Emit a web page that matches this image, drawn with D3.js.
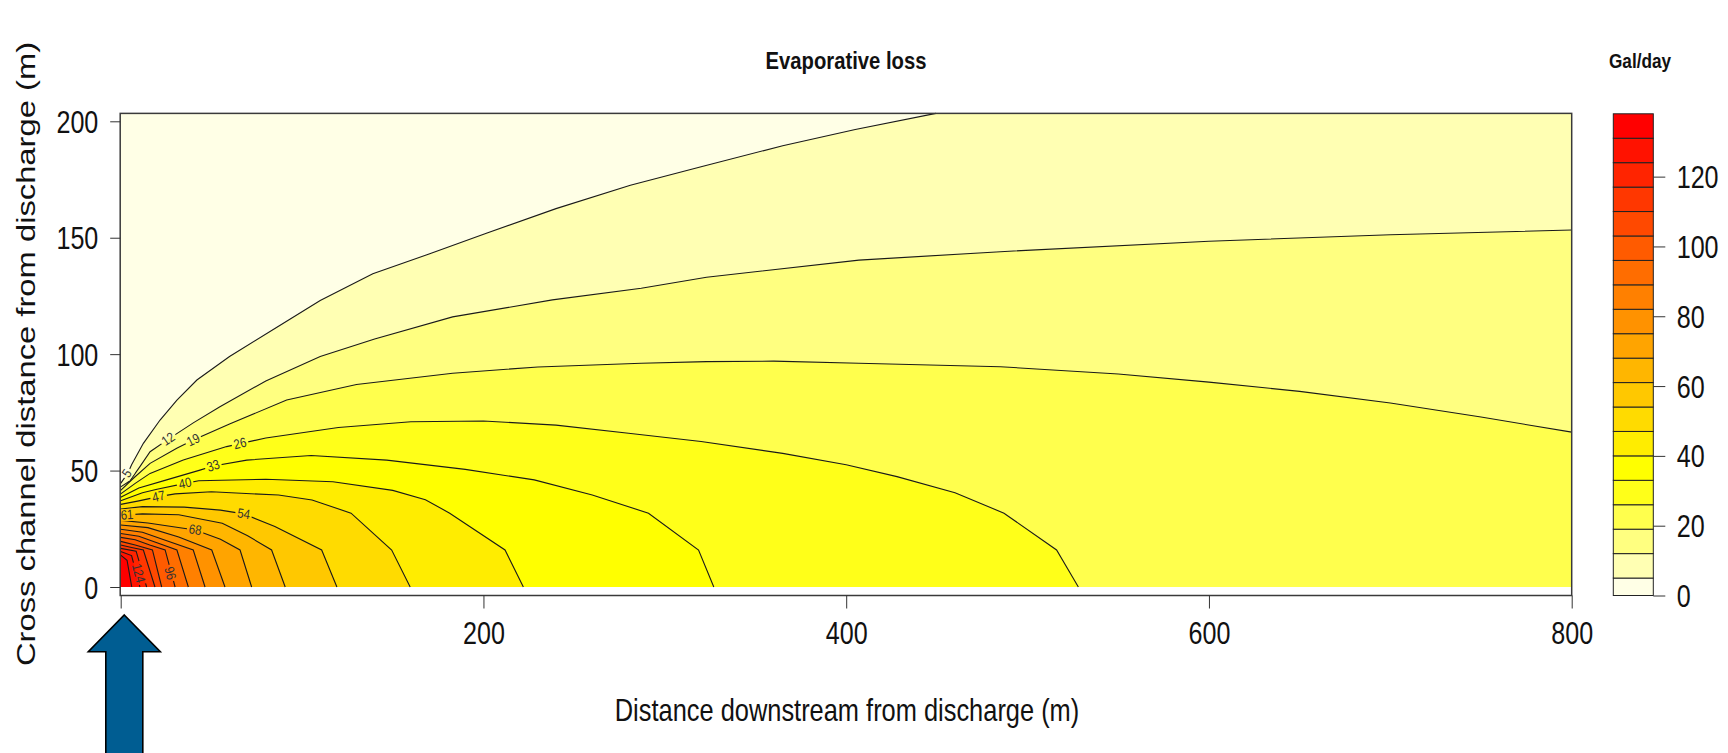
<!DOCTYPE html>
<html>
<head>
<meta charset="utf-8">
<script src="https://cdn.jsdelivr.net/npm/d3@7/dist/d3.min.js"></script>
<style>
  html, body { margin: 0; padding: 0; background: #fff; }
  svg { display: block; font-family: "Liberation Sans", Arial, sans-serif; }
</style>
</head>
<body>
<div id="chart"></div>
<script>
// contour breaks (Gal/day), 20 bands
const levels = [0, 5, 12, 19, 26, 33, 40, 47, 54, 61, 68, 75, 82, 89, 96, 103, 110, 117, 124, 131, 138];
const xTicks = [0, 200, 400, 600, 800];
const yTicks = [0, 50, 100, 150, 200];
const keyTicks = [0, 20, 40, 60, 80, 100, 120];

// contour lines: [distance downstream, cross channel distance]
const line5   = [[0,44.5],[4,49],[6,52.5],[12.5,61.7],[21.7,71.7],[31,80.3],[42,88.9],[60,99],[85,111],[110,123],[139,134.5],[170,143],[202,152],[240,162.5],[281,172.5],[320,180.5],[365,189.5],[405,196.5],[449.5,203.4]];
const line12  = [[0,43],[5,45.5],[10.6,51.7],[16.2,58.1],[26.3,63.5],[40,70.5],[54.7,77.4],[80,88.5],[110,99],[140,106.5],[183,116],[238,123.3],[287,128.3],[323,133],[407,140.4],[485,144],[600,148.5],[700,151.3],[800,153.3]];
const line19  = [[0,41.5],[7,46.7],[16.2,53.1],[30.9,59.6],[40,63.1],[60,70],[91.5,80.3],[130,87],[183,91.8],[230,94.5],[287,96.1],[323,96.8],[360,97],[407,96.1],[485,94.6],[550,91.5],[600,88],[650,84],[700,79],[750,73],[800,66.5]];
const line26  = [[0,40],[8,44.5],[16.2,48.8],[34.5,54.5],[58.4,60.3],[80,64],[120,68.5],[160,71],[200,71.3],[240,69.5],[280,66],[320,62.5],[365,57.4],[400,52.5],[428,47.4],[460,40.5],[487,31.7],[516,15.9],[528,0]];
const line33  = [[0,38.5],[10,42.5],[25.3,46],[43.7,50.2],[51,52],[69.5,54.5],[105,56.5],[146.7,54.5],[190,50.5],[228,46],[260,39.5],[291,31.7],[318.6,15.9],[327,0]];
const line40  = [[0,37],[12,40.5],[20,42],[35.5,44.5],[43,45.6],[80,46.3],[117,45.2],[150,41.5],[168,37.5],[181.4,31.7],[211.9,15.9],[222,0]];
const line47  = [[0,35.5],[10,37],[20.9,38.8],[30,40],[50,40.9],[87,39.5],[105.5,37.4],[127,31.7],[149.4,15.9],[159.6,0]];
const line54  = [[0,33.5],[12,34.5],[35,34.3],[55,33],[67.8,31.4],[85,26],[110.8,15.9],[119.2,0]];
const line61  = [[0,30.8],[12,31.4],[32,31],[56,27.4],[70,22],[83.2,15.9],[90.7,0]];
const line68  = [[0,28.6],[15,27.5],[41.1,24.5],[55,20.5],[65.8,15.9],[72.2,0]];
const line75  = [[0,26.6],[15,25.5],[32,21.5],[50.2,15.9],[57.5,0]];
const line82  = [[0,24.8],[12,23.5],[25,20],[40,15.9],[46.5,0]];
const line89  = [[0,23],[10,21.8],[20,19],[31,15.9],[37.3,0]];
const line96  = [[0,21.3],[8,20.3],[16,18],[24.5,15.9],[30,0]];
const line103 = [[0,19.6],[8,18],[17.5,15.9],[22.6,0]];
const line110 = [[0,18],[6,17],[12.5,15.9],[18.9,0]];
const line117 = [[0,16.6],[8.5,15.4],[14.3,0]];
const line124 = [[0,15.2],[6,13.5],[10.6,0]];
const line131 = [[0,13.7],[3.5,11.5],[6.1,0]];

// labelled contours: [level, x, y]
const contourLabels = [[5,3.5,48.8],[12,26.3,63.5],[19,40,63.1],[26,65.8,61.6],[33,51,52],[40,35.5,44.5],
                       [47,20.9,38.8],[54,67.8,31.4],[61,3.5,30.9],[68,41.1,24.5],[96,27.2,5.9],[124,9.7,5.9]];

const contourLines = [
  {level: 5, pts: line5}, {level: 12, pts: line12}, {level: 19, pts: line19}, {level: 26, pts: line26},
  {level: 33, pts: line33}, {level: 40, pts: line40}, {level: 47, pts: line47}, {level: 54, pts: line54},
  {level: 61, pts: line61}, {level: 68, pts: line68}, {level: 75, pts: line75}, {level: 82, pts: line82},
  {level: 89, pts: line89}, {level: 96, pts: line96}, {level: 103, pts: line103}, {level: 110, pts: line110},
  {level: 117, pts: line117}, {level: 124, pts: line124}, {level: 131, pts: line131}
];

const X_MAX = 800, Y_MAX = 203.4;   // extent of the filled grid

// R heat.colors(20), reversed (pale -> red)
function heatColors(n) {
  const j = Math.floor(n / 4), i = n - j, out = [];
  for (let k = 0; k < i; k++) out.push(d3.rgb(255, Math.round(255 * k / (i - 1)), 0).formatHex());
  for (let k = 0; k < j; k++) {
    const s = (1 - 1 / (2 * j)) - k * ((1 - 1 / j) / (j - 1));
    out.push(d3.rgb(255, 255, Math.round(255 * (1 - s))).formatHex());
  }
  return out.reverse();
}
const bandColors = heatColors(levels.length - 1);

const width = 1728, height = 753;
const svg = d3.select("#chart").append("svg").attr("width", width).attr("height", height);

const x = d3.scaleLinear().domain([0, 800]).range([120.7, 1571.7]);
const y = d3.scaleLinear().domain([0, 200]).range([587, 121.3]);
const keyY = d3.scaleLinear().domain([0, 138]).range([595.5, 113.8]);

const TXT = "#111";
// the lettering in the picture is squeezed horizontally
function label(sel, o) {
  return sel.append("text")
    .attr("transform", `translate(${o.x},${o.y}) rotate(${o.rot || 0}) scale(${o.sx || 1},${o.sy || 1})`)
    .attr("text-anchor", o.anchor || "middle")
    .attr("font-size", o.size)
    .attr("font-weight", o.weight || "normal")
    .attr("fill", o.fill || TXT)
    .text(o.text);
}

// ---- filled contours ----
const plot = svg.append("g").attr("id", "plot");
const toPath = d3.line().x(d => x(d[0])).y(d => y(d[1]));

plot.append("rect")
  .attr("x", x(0)).attr("y", y(Y_MAX))
  .attr("width", x(X_MAX) - x(0)).attr("height", y(0) - y(Y_MAX))
  .attr("fill", bandColors[0]);

// region z >= level lies below/left of each line; close it along the frame
function superLevel(pts) {
  const p = pts.slice(), end = p[p.length - 1];
  if (end[1] >= Y_MAX - 0.01) p.push([X_MAX, Y_MAX], [X_MAX, 0]);
  else if (end[0] >= X_MAX - 0.01) p.push([X_MAX, 0]);
  p.push([0, 0]);
  return p;
}

plot.selectAll(".band").data(contourLines).join("path")
  .attr("class", "band")
  .attr("d", d => toPath(superLevel(d.pts)) + "Z")
  .attr("fill", d => bandColors[levels.indexOf(d.level)]);

// ---- contour labels (line is broken under each label) ----
const LBL_SIZE = 13.5, LBL_SX = 0.85;
function labelAngle(lv, lx, ly) {
  const pts = contourLines.find(c => c.level === lv).pts.map(p => [x(p[0]), y(p[1])]);
  const px = x(lx), py = y(ly);
  let best = null, bd = Infinity;
  for (let i = 0; i < pts.length - 1; i++) {
    const [ax, ay] = pts[i], [bx, by] = pts[i + 1];
    const t = Math.max(0, Math.min(1, ((px - ax) * (bx - ax) + (py - ay) * (by - ay)) / ((bx - ax) ** 2 + (by - ay) ** 2)));
    const dd = (ax + t * (bx - ax) - px) ** 2 + (ay + t * (by - ay) - py) ** 2;
    if (dd < bd) { bd = dd; best = [bx - ax, by - ay]; }
  }
  let a = Math.atan2(best[1], best[0]) * 180 / Math.PI;
  if (a > 90) a -= 180;
  if (a < -90) a += 180;
  return a;
}
const lblData = contourLabels.map(d => ({level: d[0], px: x(d[1]), py: y(d[2]), rot: labelAngle(d[0], d[1], d[2])}));

const defs = svg.append("defs");
const mask = defs.append("mask").attr("id", "lblMask").attr("maskUnits", "userSpaceOnUse")
  .attr("x", 0).attr("y", 0).attr("width", width).attr("height", height);
mask.append("rect").attr("width", width).attr("height", height).attr("fill", "#fff");
mask.selectAll("rect.gap").data(lblData).join("rect")
  .attr("class", "gap")
  .attr("transform", d => `translate(${d.px},${d.py}) rotate(${d.rot})`)
  .attr("x", d => -(String(d.level).length * 0.556 * LBL_SIZE * LBL_SX) / 2 - 2)
  .attr("y", -LBL_SIZE * 0.45)
  .attr("width", d => String(d.level).length * 0.556 * LBL_SIZE * LBL_SX + 4)
  .attr("height", LBL_SIZE * 0.9)
  .attr("fill", "#000");

plot.append("g").attr("mask", "url(#lblMask)")
  .selectAll(".cline").data(contourLines).join("path")
  .attr("class", "cline")
  .attr("d", d => toPath(d.pts))
  .attr("fill", "none")
  .attr("stroke", "#1a1a1a")
  .attr("stroke-width", 1.1);

const lblG = plot.append("g");
lblData.forEach(d => {
  label(lblG, {x: d.px, y: d.py, rot: d.rot, sx: LBL_SX, size: LBL_SIZE, text: d.level, fill: "#333"})
    .attr("dominant-baseline", "central");
});

// ---- frame and axes ----
svg.append("rect")
  .attr("x", 120.2).attr("y", y(Y_MAX))
  .attr("width", x(800) - 120.2).attr("height", 595.5 - y(Y_MAX))
  .attr("fill", "none").attr("stroke", "#3a3a3a").attr("stroke-width", 1.5);

const TICK_SIZE = 31, TICK_SX = 0.81;

const xAxisG = svg.append("g").attr("transform", "translate(0,595.5)")
  .call(d3.axisBottom(x).tickValues(xTicks).tickSize(13).tickFormat(d => d === 0 ? "" : d));
xAxisG.select(".domain").remove();
xAxisG.selectAll("line").attr("stroke", "#333");
xAxisG.selectAll("text")
  .attr("y", 48.5).attr("dy", null)
  .attr("font-size", TICK_SIZE).attr("font-family", null).attr("fill", TXT)
  .attr("transform", `scale(${TICK_SX},1)`);

const yAxisG = svg.append("g").attr("transform", "translate(120.2,0)")
  .call(d3.axisLeft(y).tickValues(yTicks).tickSize(10));
yAxisG.select(".domain").remove();
yAxisG.selectAll("line").attr("stroke", "#333");
yAxisG.selectAll("text")
  .attr("x", -21.9 / TICK_SX).attr("y", 11).attr("dy", null)
  .attr("font-size", TICK_SIZE).attr("font-family", null).attr("fill", TXT)
  .attr("transform", `scale(${TICK_SX},1)`);

// ---- colour key ----
const key = svg.append("g").attr("id", "key");
const KEY_X0 = 1613.3, KEY_X1 = 1653.3;
key.selectAll("rect").data(d3.range(levels.length - 1)).join("rect")
  .attr("x", KEY_X0).attr("width", KEY_X1 - KEY_X0)
  .attr("y", i => keyY(levels[i + 1]))
  .attr("height", i => keyY(levels[i]) - keyY(levels[i + 1]))
  .attr("fill", i => bandColors[i])
  .attr("stroke", "#222").attr("stroke-width", 1);

const keyAxisG = key.append("g").attr("transform", `translate(${KEY_X1},0)`)
  .call(d3.axisRight(keyY).tickValues(keyTicks).tickSize(12));
keyAxisG.select(".domain").remove();
keyAxisG.selectAll("line").attr("stroke", "#333");
keyAxisG.selectAll("text")
  .attr("x", 23.4 / TICK_SX).attr("y", 11).attr("dy", null)
  .attr("font-size", TICK_SIZE).attr("font-family", null).attr("fill", TXT)
  .attr("transform", `scale(${TICK_SX},1)`);

// ---- titles ----
label(svg, {x: 846, y: 69.3, size: 23, sx: 0.88, weight: "bold", text: "Evaporative loss"});
label(svg, {x: 1640, y: 68, size: 20, sx: 0.86, weight: "bold", text: "Gal/day"});
label(svg, {x: 847, y: 721, size: 31, sx: 0.82, text: "Distance downstream from discharge (m)"});
label(svg, {x: 35, y: 354, size: 25, rot: -90, sx: 1.31, text: "Cross channel distance from discharge (m)"});

// ---- discharge arrow under x = 0 ----
const ax = x(0) + 3.6, tipY = 615;
svg.append("path")
  .attr("d", `M${ax},${tipY} L${ax + 36},${tipY + 36.7} L${ax + 18.5},${tipY + 36.7} L${ax + 18.5},${height + 10}
              L${ax - 18.5},${height + 10} L${ax - 18.5},${tipY + 36.7} L${ax - 36},${tipY + 36.7} Z`)
  .attr("fill", "#005d92")
  .attr("stroke", "#000")
  .attr("stroke-width", 1.6)
  .attr("stroke-linejoin", "miter");
</script>
</body>
</html>
